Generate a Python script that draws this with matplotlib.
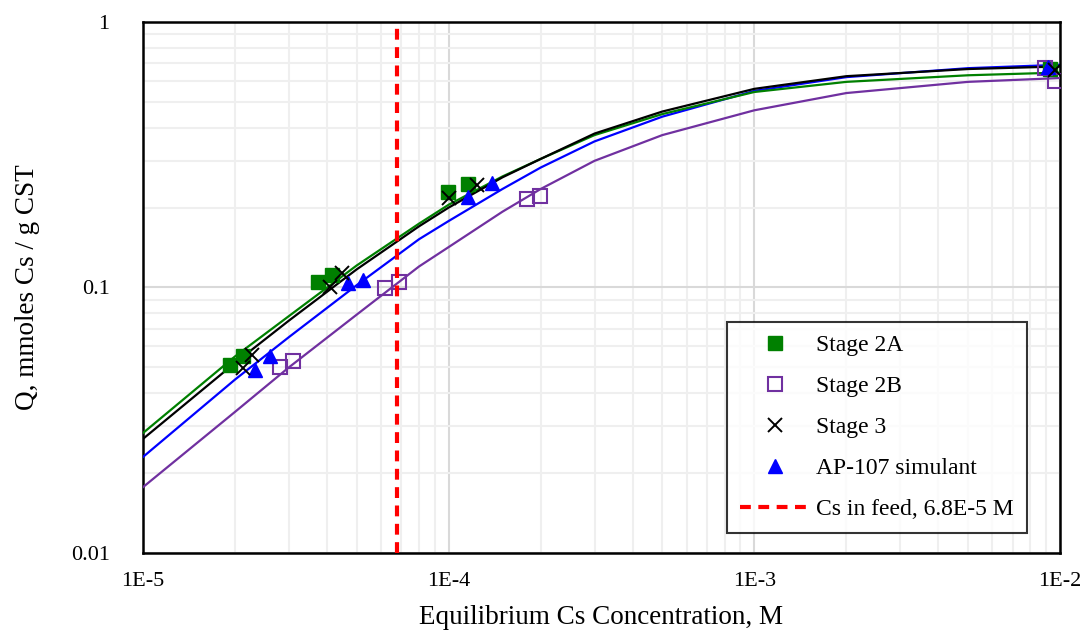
import numpy as np
import matplotlib.pyplot as plt
from matplotlib.ticker import FixedLocator, LogLocator, NullFormatter, FuncFormatter

plt.rcParams['font.family'] = ['Liberation Serif', 'DejaVu Serif']

# fitted isotherm curves
fit_x = [1e-5, 2e-5, 3e-5, 5e-5, 8e-5, 1e-4, 1.5e-4, 2e-4, 3e-4, 5e-4, 1e-3, 2e-3, 5e-3, 1e-2]
fit_2a = [0.0283, 0.055, 0.078, 0.121, 0.174, 0.205, 0.262, 0.305, 0.375, 0.45, 0.545, 0.595, 0.63, 0.645]
fit_2b = [0.0177, 0.034, 0.050, 0.079, 0.120, 0.142, 0.193, 0.235, 0.300, 0.375, 0.465, 0.54, 0.595, 0.615]
fit_3 = [0.0269, 0.052, 0.075, 0.117, 0.170, 0.200, 0.260, 0.305, 0.380, 0.46, 0.56, 0.625, 0.665, 0.68]
fit_ap = [0.0230, 0.045, 0.065, 0.102, 0.152, 0.178, 0.235, 0.283, 0.355, 0.44, 0.55, 0.62, 0.67, 0.69]

# measured points
s2a_x = [1.93e-5, 2.12e-5, 3.74e-5, 4.15e-5, 9.95e-5, 1.16e-4, 9.3e-3]
s2a_y = [0.051, 0.0552, 0.105, 0.111, 0.229, 0.245, 0.665]
s2b_x = [2.81e-5, 3.09e-5, 6.19e-5, 6.88e-5, 1.80e-4, 1.99e-4, 8.9e-3, 9.6e-3]
s2b_y = [0.0502, 0.0529, 0.0996, 0.1049, 0.215, 0.221, 0.67, 0.60]
s3_x = [2.12e-5, 2.27e-5, 4.09e-5, 4.48e-5, 1.0e-4, 1.24e-4, 9.62e-3]
s3_y = [0.0498, 0.0557, 0.1004, 0.1134, 0.217, 0.243, 0.659]
ap_x = [2.32e-5, 2.60e-5, 4.68e-5, 5.24e-5, 1.157e-4, 1.386e-4, 9.13e-3]
ap_y = [0.0489, 0.0552, 0.104, 0.1067, 0.219, 0.2475, 0.677]

feed_cs = 6.8e-5

green = '#008000'
purple = '#7030A0'
blue = '#0000FF'

fig = plt.figure(figsize=(10.84, 6.32), dpi=100)
ax = fig.add_axes([0.1319, 0.125, 0.846, 0.8402])

ax.plot(fit_x, fit_2b, color=purple, lw=1.6, zorder=3)
ax.plot(fit_x, fit_ap, color=blue, lw=1.6, zorder=3)
ax.plot(fit_x, fit_2a, color=green, lw=1.6, zorder=3)
ax.plot(fit_x, fit_3, color='black', lw=1.6, zorder=3)

ax.plot(s2a_x, s2a_y, 's', color=green, ms=10, ls='none', label='Stage 2A', zorder=4)
ax.plot(s2b_x, s2b_y, 's', mfc='none', mec=purple, mew=1.5, ms=10, ls='none', label='Stage 2B', zorder=4)
ax.plot(s3_x, s3_y, 'x', color='black', ms=10, mew=1.4, ls='none', label='Stage 3', zorder=5)
ax.plot(ap_x, ap_y, '^', color=blue, ms=10, ls='none', label='AP-107 simulant', zorder=4)
ax.axvline(feed_cs, color='red', lw=3, ls=(0, (2.6, 1.8)), label='Cs in feed, 6.8E-5 M', zorder=6)

ax.set_xscale('log')
ax.set_yscale('log')
ax.set_xlim(1e-5, 1e-2)
ax.set_ylim(0.01, 1)

ax.xaxis.set_major_locator(FixedLocator([1e-5, 1e-4, 1e-3, 1e-2]))
ax.xaxis.set_major_formatter(FuncFormatter(lambda v, p: '1E%d' % round(np.log10(v))))
ax.yaxis.set_major_locator(FixedLocator([0.01, 0.1, 1]))
ax.yaxis.set_major_formatter(FuncFormatter(lambda v, p: '%g' % v))
ax.xaxis.set_minor_locator(LogLocator(base=10, subs=np.arange(2, 10)))
ax.yaxis.set_minor_locator(LogLocator(base=10, subs=np.arange(2, 10)))
ax.xaxis.set_minor_formatter(NullFormatter())
ax.yaxis.set_minor_formatter(NullFormatter())

ax.grid(which='major', color='#d9d9d9', lw=1.5)
ax.grid(which='minor', color='#efefef', lw=1.5)
ax.set_axisbelow(True)
ax.tick_params(which='both', length=0, labelsize=16)
ax.tick_params(axis='y', pad=24)
ax.tick_params(axis='x', pad=14)
for s in ax.spines.values():
    s.set_linewidth(1.8)

ax.set_xlabel('Equilibrium Cs Concentration, M', fontsize=19.5, labelpad=10)
ax.set_ylabel('Q, mmoles Cs / g CST', fontsize=19.5, labelpad=22)

leg = ax.legend(loc='lower right', bbox_to_anchor=(0.964, 0.0377), borderaxespad=0,
                fontsize=17, frameon=True, fancybox=False, edgecolor='black',
                handlelength=2.95, labelspacing=0.82, borderpad=0.55, handletextpad=0.3)
leg.get_frame().set_linewidth(1.5)
leg.set_zorder(10)

fig.savefig('out.png', dpi=100)
